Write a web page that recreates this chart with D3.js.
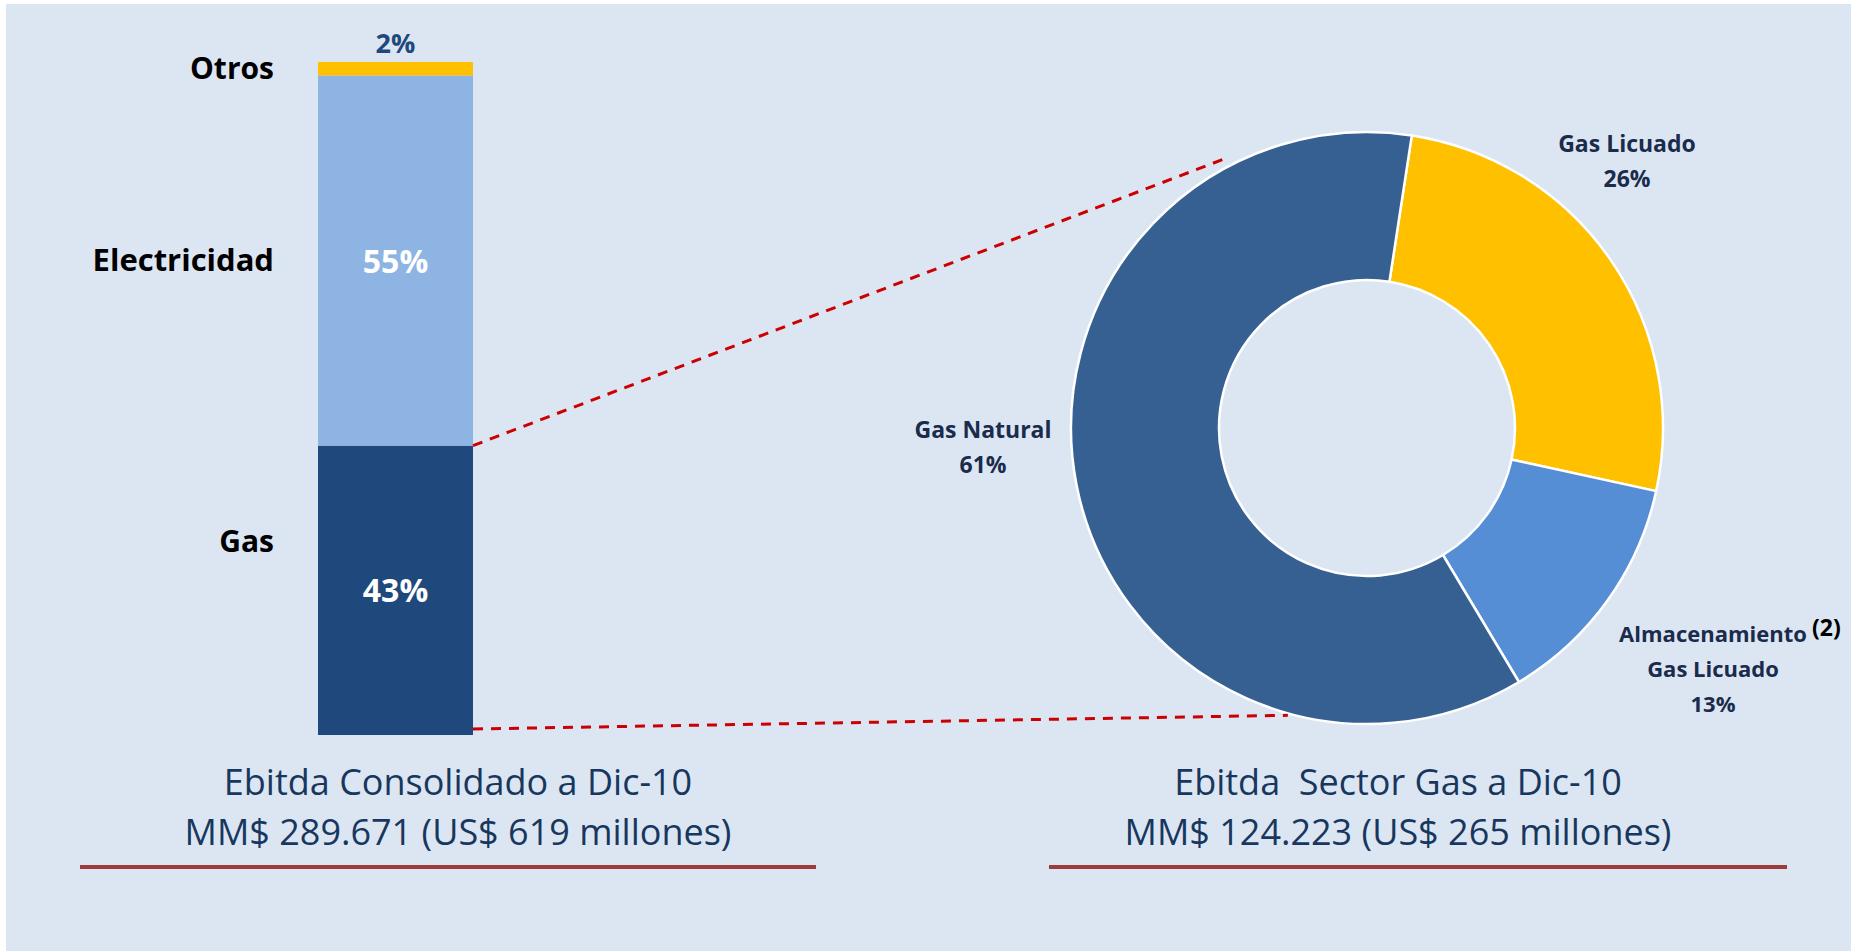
<!DOCTYPE html>
<html>
<head>
<meta charset="utf-8">
<script src="https://cdn.jsdelivr.net/npm/d3@7"></script>
<style>
  body { margin: 0; background: #fff; }
  svg text { font-family: "Open Sans", "Noto Sans", sans-serif; }
</style>
</head>
<body>
<svg id="chart"></svg>
<script>
// stacked bar (consolidated ebitda)
const barCategories = ["Gas", "Electricidad", "Otros"];
const barValues = [43, 55, 2];
const barLabels = ["43%", "55%", "2%"];

// donut (gas sector ebitda)
const donutCategories = ["Gas Licuado", "Almacenamiento", "Gas Natural"];
const donutValues = [26, 13, 61];
const donutLabels = ["26%", "13%", "61%"];

const leftTitle = ["Ebitda Consolidado a Dic-10", "MM$ 289.671 (US$ 619 millones)"];
const rightTitle = ["Ebitda  Sector Gas a Dic-10", "MM$ 124.223 (US$ 265 millones)"];

const width = 1855, height = 951;
const svg = d3.select("#chart").attr("width", width).attr("height", height);

svg.append("rect")
    .attr("x", 6).attr("y", 4)
    .attr("width", 1845).attr("height", 947)
    .attr("fill", "#dce6f2");

// ---- bar ----
const barColors = { "Gas": "#1f497d", "Electricidad": "#8eb4e3", "Otros": "#ffc000" };
const x = d3.scaleBand().domain(["Dic-10"]).range([318, 473]).padding(0);
const y = d3.scaleLinear().domain([0, 100]).range([735, 62]);

let acc = 0;
const stacked = barCategories.map((c, i) => {
    const d = { cat: c, v: barValues[i], label: barLabels[i], y0: acc, y1: acc + barValues[i] };
    acc += barValues[i];
    return d;
});

const bar = svg.append("g");
bar.selectAll("rect")
    .data(stacked)
    .join("rect")
    .attr("x", x("Dic-10"))
    .attr("width", x.bandwidth())
    .attr("y", d => y(d.y1))
    .attr("height", d => y(d.y0) - y(d.y1))
    .attr("fill", d => barColors[d.cat]);

// values inside / above
bar.selectAll("text.val")
    .data(stacked)
    .join("text")
    .attr("class", "val")
    .attr("x", x("Dic-10") + x.bandwidth() / 2)
    .attr("y", d => d.cat === "Otros" ? y(d.y1) - 9 : (y(d.y0) + y(d.y1)) / 2 + 12)
    .attr("text-anchor", "middle")
    .attr("font-weight", "bold")
    .attr("font-size", d => d.cat === "Otros" ? 27 : 32)
    .attr("fill", d => d.cat === "Otros" ? "#1f497d" : "#fff")
    .text(d => d.label);

// category names on the left
const catOffset = { "Gas": -48, "Electricidad": 0, "Otros": 0 };
bar.selectAll("text.cat")
    .data(stacked)
    .join("text")
    .attr("class", "cat")
    .attr("x", 274)
    .attr("y", d => (y(d.y0) + y(d.y1)) / 2 + 10 + catOffset[d.cat])
    .attr("text-anchor", "end")
    .attr("font-weight", "bold")
    .attr("font-size", d => d.cat === "Electricidad" ? 31 : 30)
    .attr("fill", "#000")
    .text(d => d.cat);

// ---- donut ----
const cx = 1367, cy = 428, rOut = 296, rIn = 148;
const donutColors = { "Gas Licuado": "#ffc000", "Almacenamiento": "#558ed5", "Gas Natural": "#366092" };
const pie = d3.pie().sort(null).value(d => d.v).startAngle(0.152).endAngle(0.152 + 2 * Math.PI);
const arc = d3.arc().innerRadius(rIn).outerRadius(rOut);
const donutData = donutCategories.map((c, i) => ({ cat: c, v: donutValues[i], label: donutLabels[i] }));

const donut = svg.append("g").attr("transform", `translate(${cx},${cy})`);
donut.selectAll("path")
    .data(pie(donutData))
    .join("path")
    .attr("d", arc)
    .attr("fill", d => donutColors[d.data.cat])
    .attr("stroke", "#fff")
    .attr("stroke-width", 2.5);

// connector lines from bar gas segment to donut
const polar = (ang, r) => [cx + r * Math.sin(ang), cy - r * Math.cos(ang)];
const deg = Math.PI / 180;
const p1 = polar(-27 * deg, rOut + 8);
const p2 = polar(195.4 * deg, rOut + 2);
const barRight = x("Dic-10") + x.bandwidth();
const connectors = [
    [[barRight, y(barValues[0])], p1],
    [[barRight, y(0) - 6], p2]
];
svg.append("g").selectAll("path")
    .data(connectors)
    .join("path")
    .attr("d", d => d3.line()(d))
    .attr("stroke", "#cc0000")
    .attr("stroke-width", 3)
    .attr("stroke-dasharray", "10,8")
    .attr("fill", "none");

// donut labels
const labelPos = {
    "Gas Licuado": { x: 1627, y: 152, lines: ["Gas Licuado"] },
    "Almacenamiento": { x: 1713, y: 642, lines: ["Almacenamiento", "Gas Licuado"] },
    "Gas Natural": { x: 983, y: 438, lines: ["Gas Natural"] }
};
const lab = svg.append("g");
donutData.forEach(d => {
    const p = labelPos[d.cat];
    const t = lab.append("text")
        .attr("x", p.x).attr("y", p.y)
        .attr("text-anchor", "middle")
        .attr("font-weight", "bold")
        .attr("font-size", d.cat === "Almacenamiento" ? 22 : 23)
        .attr("fill", "#1a2b4c");
    p.lines.concat([d.label]).forEach((ln, i) => {
        t.append("tspan").attr("x", p.x).attr("dy", i === 0 ? 0 : 35).text(ln);
    });
    if (d.cat === "Almacenamiento") {
        lab.append("text")
            .attr("x", 1812).attr("y", 636)
            .attr("font-weight", "bold")
            .attr("font-size", 23)
            .attr("fill", "#000")
            .text("(2)");
    }
});

// ---- titles and underlines ----
const titles = [
    { lines: leftTitle, cx: 458, x0: 80, x1: 816 },
    { lines: rightTitle, cx: 1398, x0: 1049, x1: 1787 }
];
titles.forEach(t => {
    const g = svg.append("g");
    t.lines.forEach((ln, i) => {
        g.append("text")
            .attr("x", t.cx).attr("y", 795 + i * 50)
            .attr("text-anchor", "middle")
            .attr("font-size", 36)
            .attr("fill", "#17375e")
            .attr("xml:space", "preserve")
            .style("white-space", "pre")
            .text(ln);
    });
    g.append("line")
        .attr("x1", t.x0).attr("x2", t.x1)
        .attr("y1", 867).attr("y2", 867)
        .attr("stroke", "#9b3b3a")
        .attr("stroke-width", 4);
});
</script>
</body>
</html>
